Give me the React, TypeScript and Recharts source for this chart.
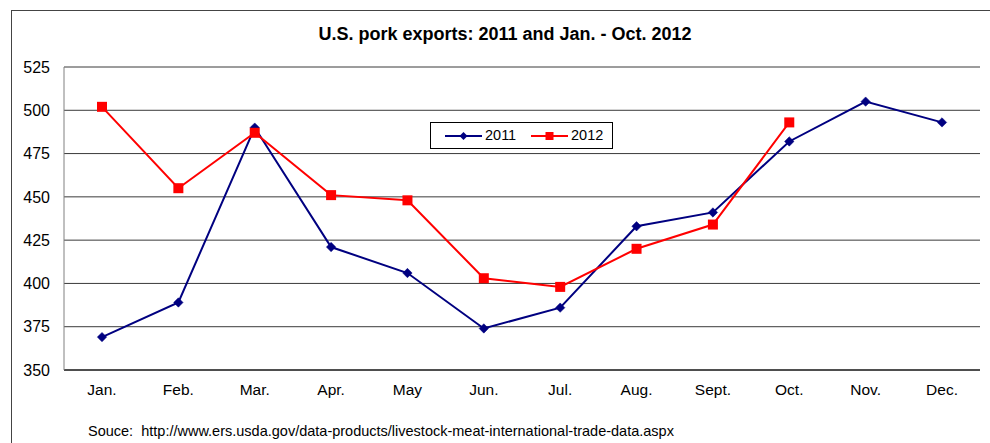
import React from 'react';
import { LineChart, Line, XAxis, YAxis, CartesianGrid, Legend } from 'recharts';

const months = ['Jan.', 'Feb.', 'Mar.', 'Apr.', 'May', 'Jun.', 'Jul.', 'Aug.', 'Sept.', 'Oct.', 'Nov.', 'Dec.'];
const exports2011 = [369, 389, 490, 421, 406, 374, 386, 433, 441, 482, 505, 493];
const exports2012 = [502, 455, 487, 451, 448, 403, 398, 420, 434, 493];
const yTicks = [350, 375, 400, 425, 450, 475, 500, 525];

const data = months.map((month, i) => ({
  month,
  y2011: exports2011[i],
  y2012: i < exports2012.length ? exports2012[i] : null,
}));

const FONT = '"Liberation Sans", Arial, sans-serif';
const BLUE = '#000080';
const RED = '#ff0000';

const Diamond = (props: any) => {
  const { cx, cy, index } = props;
  if (cx == null || cy == null) return <g key={`d${index}`} />;
  const r = 4.7;
  return (
    <polygon
      key={`d${index}`}
      points={`${cx},${cy - r} ${cx + r},${cy} ${cx},${cy + r} ${cx - r},${cy}`}
      fill={BLUE}
      stroke={BLUE}
      strokeWidth={0.5}
    />
  );
};

const Square = (props: any) => {
  const { cx, cy, index } = props;
  if (cx == null || cy == null) return <g key={`s${index}`} />;
  const h = 5;
  return <rect key={`s${index}`} x={cx - h} y={cy - h} width={h * 2} height={h * 2} fill={RED} />;
};

const LegendBox = () => (
  <div
    style={{
      boxSizing: 'border-box',
      width: 183,
      height: 27,
      border: '1px solid #000',
      background: '#fff',
      position: 'relative',
      fontFamily: FONT,
      fontSize: 14.5,
      color: '#000',
    }}
  >
    <svg width={37} height={12} style={{ position: 'absolute', left: 14, top: 7 }}>
      <line x1={0} y1={6} x2={37} y2={6} stroke={BLUE} strokeWidth={2} />
      <polygon points="18.5,2 22.5,6 18.5,10 14.5,6" fill={BLUE} />
    </svg>
    <span style={{ position: 'absolute', left: 54, top: 4 }}>2011</span>
    <svg width={37} height={12} style={{ position: 'absolute', left: 100, top: 7 }}>
      <line x1={0} y1={6} x2={37} y2={6} stroke={RED} strokeWidth={2} />
      <rect x={14.5} y={2} width={8} height={8} fill={RED} />
    </svg>
    <span style={{ position: 'absolute', left: 140, top: 4 }}>2012</span>
  </div>
);

export default function App() {
  return (
    <div
      style={{
        position: 'absolute',
        left: 0,
        top: 0,
        width: 990,
        height: 443,
        background: '#fff',
        fontFamily: FONT,
        overflow: 'hidden',
      }}
    >
      <div
        style={{
          position: 'absolute',
          left: 11,
          top: 10,
          width: 990,
          height: 443,
          borderLeft: '1px solid #444',
          borderTop: '1px solid #444',
        }}
      />
      <div
        style={{
          position: 'absolute',
          left: 0,
          width: 1010,
          top: 24,
          textAlign: 'center',
          fontWeight: 'bold',
          fontSize: 18,
          color: '#000',
        }}
      >
        U.S. pork exports: 2011 and Jan. - Oct. 2012
      </div>
      <div style={{ position: 'absolute', left: 0, top: 0 }}>
        <LineChart width={990} height={443} data={data} margin={{ top: 67, right: 10, bottom: 43, left: 0 }}>
          <CartesianGrid horizontal vertical={false} stroke="#3a3a3a" />
          <XAxis
            dataKey="month"
            height={30}
            tickLine={false}
            axisLine={{ stroke: '#000' }}
            tickMargin={8}
            padding={{ left: 38, right: 38 }}
            tick={{ fill: '#000', fontSize: 15.5, fontFamily: FONT }}
            interval={0}
          />
          <YAxis
            width={64}
            domain={[350, 525]}
            ticks={yTicks}
            interval={0}
            tickLine={false}
            axisLine={{ stroke: '#808080' }}
            tickMargin={8}
            tick={{ fill: '#000', fontSize: 16, fontFamily: FONT }}
          />
          <YAxis yAxisId="frame" orientation="right" width={0} tick={false} tickLine={false} axisLine={{ stroke: '#808080' }} />
          <Legend
            layout="vertical"
            align="center"
            verticalAlign="middle"
            content={LegendBox}
            wrapperStyle={{ left: 430, top: 122, width: 183, height: 27 }}
          />
          <Line
            dataKey="y2011"
            name="2011"
            stroke={BLUE}
            strokeWidth={2}
            dot={Diamond}
            activeDot={false}
            isAnimationActive={false}
          />
          <Line
            dataKey="y2012"
            name="2012"
            stroke={RED}
            strokeWidth={2}
            dot={Square}
            activeDot={false}
            connectNulls={false}
            isAnimationActive={false}
          />
        </LineChart>
      </div>
      <div style={{ position: 'absolute', left: 88, top: 423, fontSize: 14.5, color: '#000', whiteSpace: 'pre' }}>
        {'Souce:  http://www.ers.usda.gov/data-products/livestock-meat-international-trade-data.aspx'}
      </div>
    </div>
  );
}
